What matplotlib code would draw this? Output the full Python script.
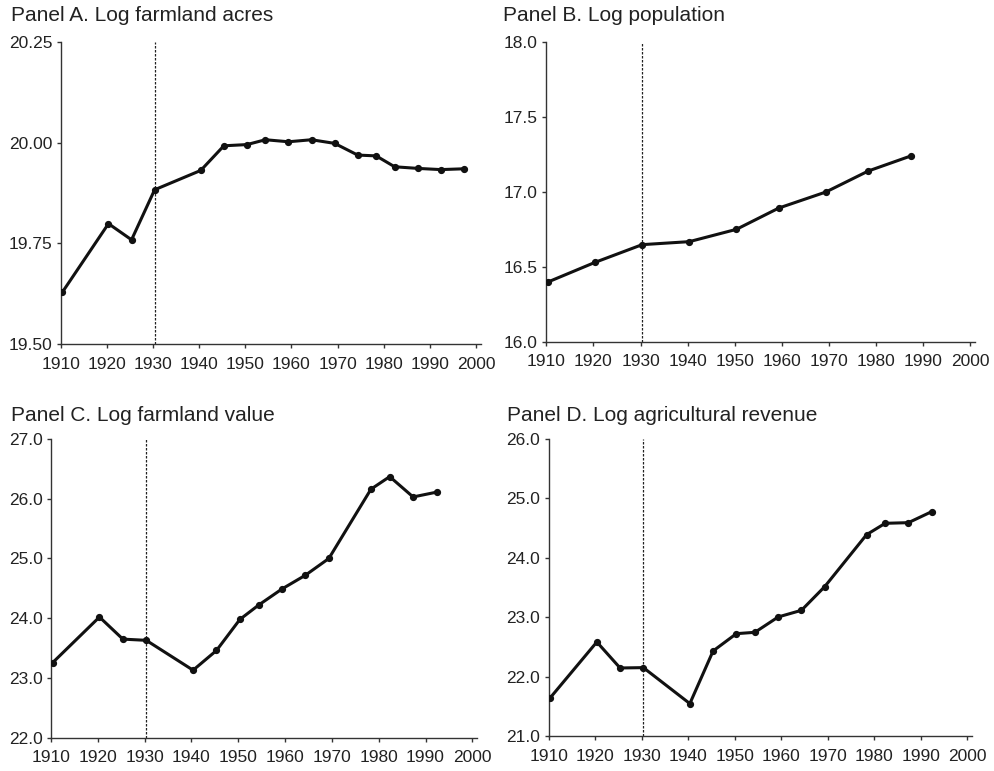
import numpy as np
import matplotlib
matplotlib.use("Agg")
import matplotlib.pyplot as plt
from matplotlib.ticker import FormatStrFormatter

plt.rcParams['font.family'] = ['Liberation Sans', 'DejaVu Sans']

# census years
years_a = [1910, 1920, 1925, 1930, 1940, 1945, 1950, 1954, 1959, 1964, 1969,
           1974, 1978, 1982, 1987, 1992, 1997]
acres = [19.629, 19.799, 19.759, 19.883, 19.931, 19.992, 19.995, 20.007, 20.002,
         20.007, 19.998, 19.969, 19.967, 19.940, 19.936, 19.933, 19.935]

years_b = [1910, 1920, 1930, 1940, 1950, 1959, 1969, 1978, 1987]
population = [16.398, 16.529, 16.647, 16.667, 16.749, 16.891, 16.998, 17.138, 17.238]

years_cd = [1910, 1920, 1925, 1930, 1940, 1945, 1950, 1954, 1959, 1964, 1969,
            1978, 1982, 1987, 1992]
value = [23.256, 24.02, 23.65, 23.63, 23.13, 23.46, 23.98, 24.22, 24.49, 24.72,
         25.00, 26.16, 26.37, 26.03, 26.11]
revenue = [21.65, 22.586, 22.149, 22.155, 21.55, 22.435, 22.726, 22.749, 23.007,
           23.119, 23.517, 24.391, 24.582, 24.593, 24.778]

titles = ["Panel A. Log farmland acres", "Panel B. Log population",
          "Panel C. Log farmland value", "Panel D. Log agricultural revenue"]
xticks = list(range(1910, 2001, 10))
break_year = 1930

W, H = 994, 771
fig = plt.figure(figsize=(W / 100, H / 100), dpi=100)

# (left, top, right, bottom) in pixels, title x, title baseline
boxes = [
    (60.7, 41.7, 480.7, 344.3, 11, 21),
    (546.3, 41.7, 975.0, 341.7, 503, 21),
    (51.0, 439.0, 477.0, 737.7, 11, 421),
    (548.7, 439.0, 971.9, 736.3, 507, 421),
]
series = [
    (years_a, acres, (19.5, 20.25), np.arange(19.5, 20.26, 0.25), "%.2f"),
    (years_b, population, (16.0, 18.0), np.arange(16.0, 18.01, 0.5), "%.1f"),
    (years_cd, value, (22.0, 27.0), np.arange(22.0, 27.01, 1.0), "%.1f"),
    (years_cd, revenue, (21.0, 26.0), np.arange(21.0, 26.01, 1.0), "%.1f"),
]

offset = 0.35  # points sit a bit right of the tick marks
spine_col = "#333333"

for (l, t, r, b, tx, ty), (xs, ys, ylim, yt, fmt), title in zip(boxes, series, titles):
    ax = fig.add_axes([l / W, 1 - b / H, (r - l) / W, (b - t) / H])
    ax.plot(np.array(xs) + offset, ys, color="#111111", lw=2.2, marker="o",
            ms=4.2, solid_joinstyle="round", zorder=3)
    ax.axvline(break_year + offset, color="#222222", lw=0.9,
               linestyle=(0, (2, 1.2)), zorder=2)
    ax.set_xlim(1910, 2001)
    ax.set_ylim(*ylim)
    ax.set_xticks(xticks)
    ax.set_yticks(yt)
    ax.yaxis.set_major_formatter(FormatStrFormatter(fmt))
    for s in ["top", "right"]:
        ax.spines[s].set_visible(False)
    for s in ["left", "bottom"]:
        ax.spines[s].set_color(spine_col)
        ax.spines[s].set_linewidth(1.0)
    ax.tick_params(direction="out", length=2.6, width=1.0, color=spine_col,
                   labelsize=12.5, labelcolor="#222222")
    ax.tick_params(axis="x", pad=6.5)
    ax.tick_params(axis="y", pad=3.5)
    fig.text(tx / W, 1 - ty / H, title, fontsize=15, color="#222222",
             va="baseline", ha="left")

fig.savefig("out.png", dpi=100)
